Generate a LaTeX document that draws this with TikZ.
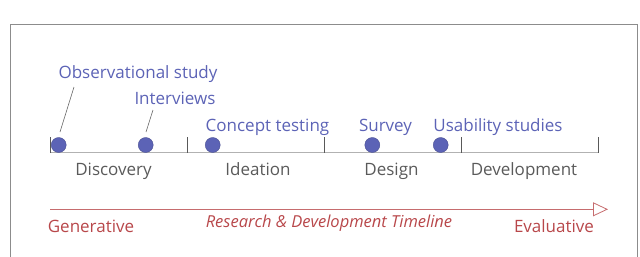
\documentclass[tikz,border=0pt]{standalone}
\usepackage{fontspec}
\setmainfont{Open Sans}
\usetikzlibrary{arrows.meta}
\definecolor{methodblue}{HTML}{5C63B6}
\definecolor{phasegray}{HTML}{5A5A5A}
\definecolor{axisred}{HTML}{B8474A}
\tikzstyle{dot}=[shape=circle, minimum size=15pt, inner sep=0, fill=methodblue, draw=methodblue!80!black, line width=0.4pt]
\tikzstyle{method}=[text=methodblue, font=\fontsize{17}{19}\selectfont, inner sep=0, anchor=base]
\tikzstyle{phase}=[text=phasegray, font=\fontsize{17}{19}\selectfont, inner sep=0, anchor=base]
\tikzstyle{axis}=[text=axisred, font=\fontsize{17}{19}\selectfont, inner sep=0, anchor=base]

\begin{document}
\begin{tikzpicture}[x=1pt,y=-1pt]
\useasboundingbox (0,0) rectangle (640,257);
\draw[gray!90, line width=1pt] (10.5,257) -- (10.5,24) -- (637,24) -- (637,257);
% timeline and phase ticks
\draw[gray!60, line width=1.5pt] (50,152.5) -- (598,152.5);
\foreach \x in {50,187,324.5,461,598}
{
\draw[gray!70!black, line width=0.6pt] (\x,137) -- (\x,153.2);
}
\foreach \x/\name/\txt in {113.5/P1/Discovery,258/P2/Ideation,391.5/P3/Design,524/P4/Development}
{
\node[phase] (\name) at (\x,175) {\txt};
}
% methods
\foreach \x/\i in {58.7/1,145.7/2,212.7/3,372.3/4,440.7/5}
{
\node[dot] (D\i) at (\x,145) {};
}
\node[method] (M1) at (138,78) {Observational study};
\node[method] (M2) at (175,104) {Interviews};
\node[method] (M3) at (267.5,131) {Concept testing};
\node[method] (M4) at (385.5,131) {Survey};
\node[method] (M5) at (498,131) {Usability studies};
\coordinate (L1) at (74,87);
\coordinate (L2) at (153,110);
\draw[gray!80!black, line width=0.6pt] (L1) -- (60,132);
\draw[gray!80!black, line width=0.6pt] (L2) -- (146,132);
% research axis
\coordinate (A0) at (50,209.3);
\coordinate (A1) at (608,209.3);
\draw[axisred!80, line width=0.8pt, -{Triangle[open, length=15pt, width=14pt]}] (A0) -- (A1);
\node[axis] (gen) at (91,232) {Generative};
\node[axis] (eva) at (554,232) {Evaluative};
\node[axis, font=\fontsize{16.5}{18}\selectfont\itshape] (title) at (329,227) {Research \& Development Timeline};
\end{tikzpicture}
\end{document}
